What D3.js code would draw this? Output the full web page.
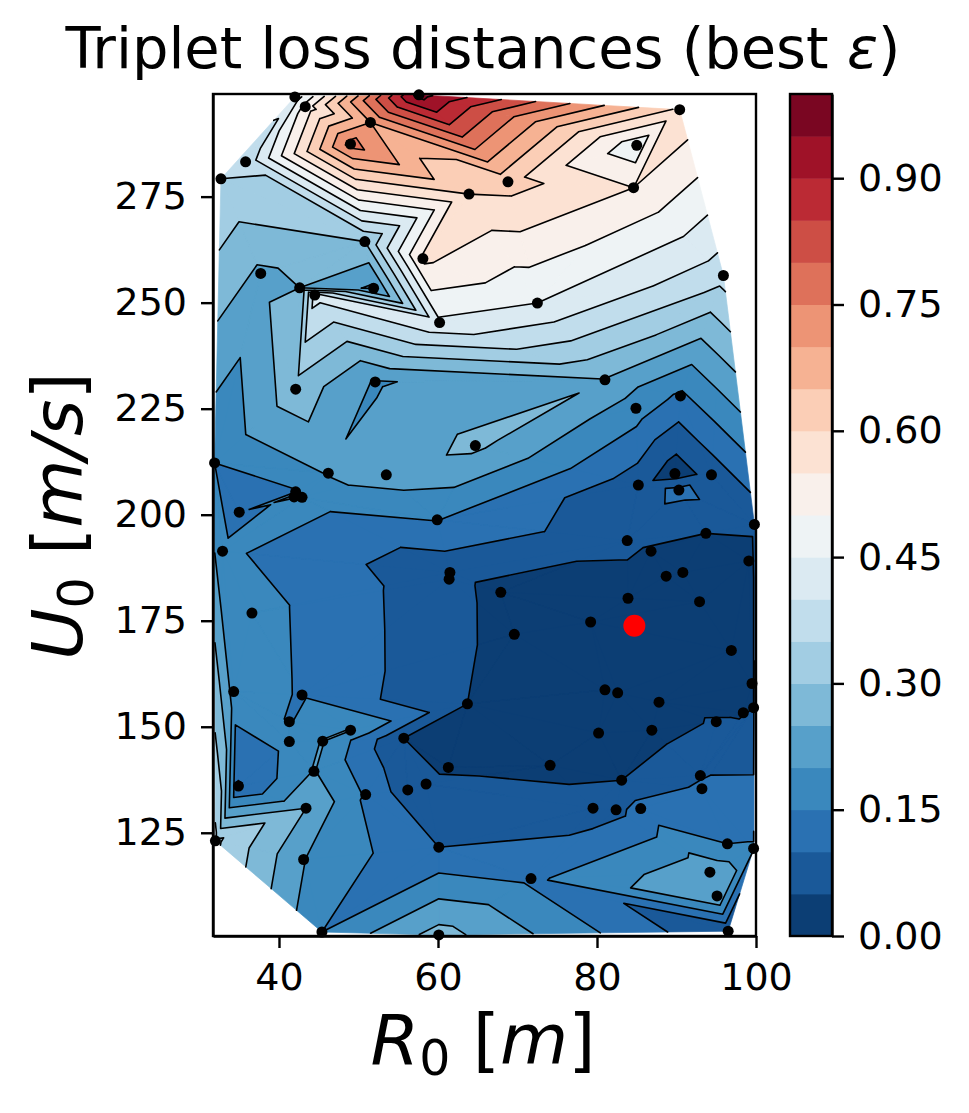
<!DOCTYPE html>
<html>
<head>
<meta charset="utf-8">
<script src="https://cdn.jsdelivr.net/npm/d3@7"></script>
<style>
  body { margin: 0; background: #fff; }
  text { font-family: "DejaVu Sans", sans-serif; fill: #000; }
  .tick text { font-size: 38px; }
  .domain, .tick line { stroke: #000; stroke-width: 2.4px; }
</style>
</head>
<body>
<svg id="chart" width="969" height="1113"></svg>
<script>
const r0 = [42.0,43.3,51.5,49.0,35.8,32.7,63.9,50.8,58.1,37.7,42.6,44.5,51.9,60.2,57.6,90.4,85.0,84.6,68.8,95.9,
  72.5,42.1,52.1,64.7,46.2,53.5,31.9,42.1,41.9,42.9,35.0,59.9,32.9,61.5,61.4,36.6,81.0,84.9,90.5,89.8,
  94.4,85.2,90.3,99.8,83.8,93.7,86.8,99.1,90.8,88.7,83.9,92.9,79.2,69.6,67.9,96.9,34.3,42.9,41.3,41.3,
  49.0,45.5,44.4,55.7,63.7,61.3,58.5,56.2,50.9,34.9,43.4,60.1,43.1,32.0,45.4,60.1,81.0,82.6,87.8,99.5,
  98.4,99.7,95.0,86.9,80.2,74.1,83.1,93.0,93.2,79.5,82.4,85.5,96.4,99.7,71.7,94.2,95.1,96.5];
const u0 = [298.5,296.2,292.5,287.4,283.2,279.2,275.6,264.4,260.4,256.9,253.5,251.8,253.4,245.3,299.0,295.5,287.1,277.1,278.5,256.4,
  249.9,229.6,231.3,216.3,209.8,209.4,212.2,205.4,204.2,204.1,200.6,198.8,191.4,186.4,184.8,176.8,231.8,225.1,228.0,209.7,
  209.4,207.0,205.8,197.7,193.9,195.6,191.4,189.1,186.4,185.5,180.3,179.5,174.7,171.8,181.7,168.0,158.3,157.5,151.2,146.5,
  149.2,146.6,139.5,147.3,155.4,140.4,136.5,135.1,134.0,136.0,130.8,121.6,118.7,123.1,101.6,100.9,158.7,158.0,155.8,160.2,
  153.3,154.5,151.2,149.2,148.5,140.9,137.4,138.5,135.4,130.8,130.4,130.7,122.4,121.3,114.2,115.7,110.1,101.8];
const loss = [.42,.52,.70,.77,.36,.35,.60,.30,.56,.24,.25,.42,.19,.44,.97,.59,.465,.55,.62,.37,
  .45,.28,.195,.262,.203,.225,.15,.145,.24,.17,.13,.152,.16,.065,.065,.17,.247,.175,.14,.02,
  .07,.07,.115,.06,.06,.05,.045,.03,.03,.03,.03,.03,.03,.03,.035,.03,.18,.145,.147,.165,
  .203,.203,.203,.05,.05,.04,.065,.07,.145,.095,.25,.10,.203,.36,.15,.27,.03,.03,.03,.03,
  .045,.05,.055,.03,.03,.03,.05,.095,.11,.075,.085,.12,.15,.155,.14,.235,.252,.055];

const bestRun = [84.7, 173.8];

const levels = d3.range(21).map(i => i / 20);
const xTicks = [40, 60, 80, 100];
const yTicks = [125, 150, 175, 200, 225, 250, 275];
const barTicks = [0, .15, .3, .45, .6, .75, .9];
const rdbu = ["#053061","#2166ac","#4393c3","#92c5de","#d1e5f0","#f7f7f7","#fddbc7","#f4a582","#d6604d","#b2182b","#67001f"];

const plotLeft = 213, plotRight = 756, plotTop = 94, plotBottom = 936;
const barLeft = 790, barRight = 832;

const SVG = d3.select("#chart");
const x = d3.scaleLinear().domain([31.7, 100]).range([plotLeft, plotRight]);
const y = d3.scaleLinear().domain([100.66, 299.2]).range([plotBottom, plotTop]);
const bar = d3.scaleLinear().domain([0, 1]).range([plotBottom, plotTop]);
const colour = d3.scaleLinear().domain(d3.range(11).map(i => i / 10)).range(rdbu);
const bandColour = i => colour((levels[i] + levels[i + 1]) / 2);

// triangulate in data units, same as tricontourf does
const delaunay = d3.Delaunay.from(r0.map((d, i) => i), i => r0[i], i => u0[i]);
const triangles = d3.range(delaunay.triangles.length / 3).map(t => {
  const a = delaunay.triangles;
  return [a[3 * t], a[3 * t + 1], a[3 * t + 2]].map(i => ({ x: r0[i], y: u0[i], z: loss[i] }));
});

function lerp(p, q, level) {
  const t = (level - p.z) / (q.z - p.z);
  return { x: p.x + t * (q.x - p.x), y: p.y + t * (q.y - p.y), z: level };
}

// keep the part of a polygon on one side of a level
function clip(poly, level, sign) {
  const out = [];
  poly.forEach((p, i) => {
    const q = poly[(i + 1) % poly.length];
    const pIn = sign * (p.z - level) >= 0, qIn = sign * (q.z - level) >= 0;
    if (pIn) out.push(p);
    if (pIn !== qIn) out.push(lerp(p, q, level));
  });
  return out;
}

const line = d3.line().x(d => x(d.x)).y(d => y(d.y));

const plot = SVG.append("g");

// filled bands
d3.range(20).forEach(i => {
  let d = "";
  triangles.forEach(tri => {
    const poly = clip(clip(tri, levels[i], 1), levels[i + 1], -1);
    if (poly.length > 2) d += line(poly) + "Z";
  });
  if (d) plot.append("path").attr("d", d)
    .attr("fill", bandColour(i))
    .attr("stroke", bandColour(i))
    .attr("stroke-width", 0.7);
});

// contour lines
levels.forEach(level => {
  let d = "";
  triangles.forEach(tri => {
    const pts = [];
    tri.forEach((p, i) => {
      const q = tri[(i + 1) % 3];
      if ((p.z >= level) !== (q.z >= level)) pts.push(lerp(p, q, level));
    });
    if (pts.length === 2) d += line(pts);
  });
  if (d) plot.append("path").attr("d", d)
    .attr("fill", "none")
    .attr("stroke", "#000")
    .attr("stroke-width", 1.6)
    .attr("stroke-linecap", "round");
});

// runs
plot.selectAll(".run").data(r0).enter().append("circle")
  .attr("cx", d => x(d))
  .attr("cy", (d, i) => y(u0[i]))
  .attr("r", 5.5)
  .attr("fill", "#000");

plot.append("circle")
  .attr("cx", x(bestRun[0]))
  .attr("cy", y(bestRun[1]))
  .attr("r", 11)
  .attr("fill", "#f00");

// axes
const xAxis = d3.axisBottom(x).tickValues(xTicks).tickSize(12).tickSizeOuter(0).tickPadding(15);
const yAxis = d3.axisLeft(y).tickValues(yTicks).tickSize(12).tickSizeOuter(0).tickPadding(14);

SVG.append("g").attr("transform", `translate(0,${plotBottom})`).call(xAxis);
SVG.append("g").attr("transform", `translate(${plotLeft},0)`).call(yAxis);
SVG.append("rect")
  .attr("x", plotLeft).attr("y", plotTop)
  .attr("width", plotRight - plotLeft).attr("height", plotBottom - plotTop)
  .attr("fill", "none").attr("stroke", "#000").attr("stroke-width", 2.4);

// colorbar
SVG.append("g").selectAll("rect").data(d3.range(20)).enter().append("rect")
  .attr("x", barLeft)
  .attr("y", i => bar(levels[i + 1]))
  .attr("width", barRight - barLeft)
  .attr("height", i => bar(levels[i]) - bar(levels[i + 1]) + 0.5)
  .attr("fill", bandColour);

SVG.append("g").attr("transform", `translate(${barRight},0)`)
  .call(d3.axisRight(bar).tickValues(barTicks).tickFormat(d3.format(".2f")).tickSize(12).tickSizeOuter(0).tickPadding(14));
SVG.append("rect")
  .attr("x", barLeft).attr("y", plotTop)
  .attr("width", barRight - barLeft).attr("height", plotBottom - plotTop)
  .attr("fill", "none").attr("stroke", "#000").attr("stroke-width", 2.4);

// title and labels
const title = SVG.append("text")
  .attr("x", 483).attr("y", 68)
  .attr("text-anchor", "middle")
  .style("font-size", "57.5px");
title.append("tspan").text("Triplet loss distances (best ");
title.append("tspan").style("font-style", "italic").text("ε");
title.append("tspan").text(")");

function mathLabel(g, letter, unit) {
  g.attr("text-anchor", "middle").style("font-size", "70px");
  g.append("tspan").style("font-style", "italic").text(letter);
  g.append("tspan").attr("dy", 11).style("font-size", "49px").text("0");
  g.append("tspan").attr("dy", -11).text(" [");
  g.append("tspan").style("font-style", "italic").text(unit);
  g.append("tspan").text("]");
}

mathLabel(SVG.append("text").attr("x", 483).attr("y", 1064), "R", "m");
mathLabel(SVG.append("text").attr("transform", "translate(82,516) rotate(-90)"), "U", "m/s");
</script>
</body>
</html>
